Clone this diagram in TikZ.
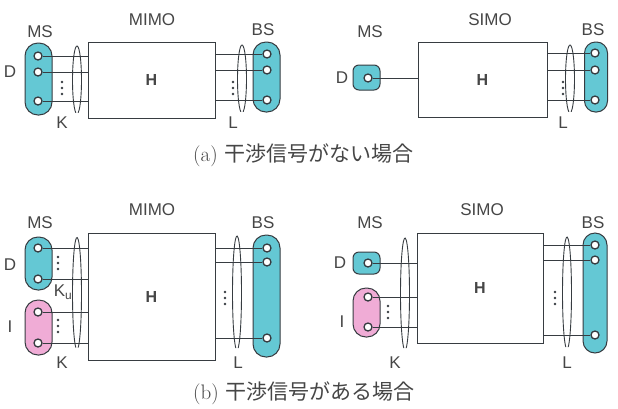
\documentclass[tikz,border=0pt]{standalone}
\usepackage{fontspec}
\setsansfont{Liberation Sans}
\newfontfamily\jpfont{Noto Sans CJK JP}
\usetikzlibrary{calc}
\definecolor{antcyan}{RGB}{100,200,212}
\definecolor{antpink}{RGB}{240,172,214}
\definecolor{edgegray}{RGB}{55,60,65}
\definecolor{labelgray}{RGB}{70,70,70}

\begin{document}
\begin{tikzpicture}[x=1pt, y=-1pt,
        grp/.style={draw=edgegray, line width=1pt, inner sep=0pt, rounded corners=13pt},
        ant/.style={circle, draw=edgegray, fill=white, line width=1.3pt, inner sep=0pt, minimum size=8pt},
        chan/.style={rectangle, draw=edgegray, line width=0.9pt, inner sep=0pt, font=\sffamily\bfseries\fontsize{16}{16}\selectfont, text=labelgray},
        lbl/.style={font=\sffamily\fontsize{17}{17}\selectfont, text=labelgray, inner sep=0pt},
        figcaption/.style={anchor=west, font=\fontsize{21}{21}\selectfont, text=labelgray, inner sep=0pt},
        wire/.style={draw=edgegray, line width=0.9pt},
        bundle/.style={draw=edgegray, line width=0.9pt}
    ]
        \path[fill=white, use as bounding box] (0,0) rectangle (618,408);

        % (a) MIMO
        \node[lbl] (mimoA) at (152,20) {MIMO};
        \node[lbl] (msA) at (40,32) {MS};
        \node[lbl] (bsA) at (263,30) {BS};
        \node[lbl] (dA) at (10,72) {D};
        \node[grp, fill=antcyan, minimum width=27pt, minimum height=72pt] (msgrpA) at (38.5,79) {};
        \node[grp, fill=antcyan, minimum width=27pt, minimum height=70pt] (bsgrpA) at (266.5,77) {};
        \node[chan, minimum width=127pt, minimum height=76pt] (HA) at (151.5,80) {H};
        \node[ant] (a1) at (38,56) {};
        \node[ant] (a2) at (38,72) {};
        \node[ant] (a3) at (38,101) {};
        \node[ant] (b1) at (267,54) {};
        \node[ant] (b2) at (267,70) {};
        \node[ant] (b3) at (267,100) {};
        \draw[wire] (a1) -- (a1 -| HA.west);
        \draw[wire] (a2) -- (a2 -| HA.west);
        \draw[wire] (a3) -- (a3 -| HA.west);
        \draw[wire] (b1) -- (b1 -| HA.east);
        \draw[wire] (b2) -- (b2 -| HA.east);
        \draw[wire] (b3) -- (b3 -| HA.east);
        \foreach \y in {82,88,94} \fill[edgegray] (62,\y) circle (1.3pt);
        \foreach \y in {82,88,94} \fill[edgegray] (233,\y) circle (1.3pt);
        \draw[bundle] ([shift={(105:4.5 and 34)}]77,80) arc[start angle=105, end angle=435, x radius=4.5, y radius=34];
        \draw[bundle] ([shift={(105:4.5 and 34)}]242,79) arc[start angle=105, end angle=435, x radius=4.5, y radius=34];
        \node[lbl] (kA) at (62,123) {K};
        \node[lbl] (lA) at (233,123) {L};

        % (a) SIMO
        \node[lbl] (simoB) at (490,20) {SIMO};
        \node[lbl] (msB) at (370,32) {MS};
        \node[lbl] (bsB) at (593,30) {BS};
        \node[lbl] (dB) at (342,78) {D};
        \node[grp, fill=antcyan, rounded corners=6pt, minimum width=27pt, minimum height=25pt] (msgrpB) at (366.5,77.5) {};
        \node[grp, fill=antcyan, rounded corners=11pt, minimum width=23pt, minimum height=70pt] (bsgrpB) at (596,77) {};
        \node[chan, minimum width=129pt, minimum height=75pt] (HB) at (482.5,79.5) {H};
        \node[ant] (c1) at (368,78) {};
        \node[ant] (e1) at (595,53) {};
        \node[ant] (e2) at (595,70) {};
        \node[ant] (e3) at (595,100) {};
        \draw[wire] (c1) -- (c1 -| HB.west);
        \draw[wire] (e1) -- (e1 -| HB.east);
        \draw[wire] (e2) -- (e2 -| HB.east);
        \draw[wire] (e3) -- (e3 -| HB.east);
        \foreach \y in {82,88,94} \fill[edgegray] (563,\y) circle (1.3pt);
        \draw[bundle] ([shift={(105:4.5 and 34)}]570,79) arc[start angle=105, end angle=435, x radius=4.5, y radius=34];
        \node[lbl] (lB) at (563,123) {L};

        \node[figcaption] (capA) at (193,155) {(a)\hspace{7pt}{\jpfont 干渉信号がない場合}};

        % (b) MIMO
        \node[lbl] (mimoC) at (152,210) {MIMO};
        \node[lbl] (msC) at (40,223) {MS};
        \node[lbl] (bsC) at (263,223) {BS};
        \node[lbl] (dC) at (10,265) {D};
        \node[lbl] (iC) at (10,327) {I};
        \node[grp, fill=antcyan, minimum width=27pt, minimum height=53pt] (dgrpC) at (38.5,263.5) {};
        \node[grp, fill=antpink, minimum width=27pt, minimum height=55pt] (igrpC) at (38.5,327.5) {};
        \node[grp, fill=antcyan, minimum width=27pt, minimum height=122pt] (bsgrpC) at (266.5,296) {};
        \node[chan, minimum width=127pt, minimum height=127pt] (HC) at (151.5,296.5) {H};
        \node[ant] (f1) at (38,248) {};
        \node[ant] (f2) at (38,279) {};
        \node[ant] (g1) at (38,312) {};
        \node[ant] (g2) at (38,343) {};
        \node[ant] (h1) at (267,248) {};
        \node[ant] (h2) at (267,262) {};
        \node[ant] (h3) at (267,338) {};
        \draw[wire] (f1) -- (f1 -| HC.west);
        \draw[wire] (f2) -- (f2 -| HC.west);
        \draw[wire] (g1) -- (g1 -| HC.west);
        \draw[wire] (g2) -- (g2 -| HC.west);
        \draw[wire] (h1) -- (h1 -| HC.east);
        \draw[wire] (h2) -- (h2 -| HC.east);
        \draw[wire] (h3) -- (h3 -| HC.east);
        \foreach \y in {257,263,269} \fill[edgegray] (58,\y) circle (1.3pt);
        \foreach \y in {320,326,332} \fill[edgegray] (58,\y) circle (1.3pt);
        \foreach \y in {292,298,304} \fill[edgegray] (225,\y) circle (1.3pt);
        \draw[bundle] ([shift={(105:4.5 and 56)}]77,293.5) arc[start angle=105, end angle=435, x radius=4.5, y radius=56];
        \draw[bundle] ([shift={(105:4.5 and 57)}]237,293) arc[start angle=105, end angle=435, x radius=4.5, y radius=57];
        \node[lbl] (kuC) at (63,292) {K\textsubscript{u}};
        \node[lbl] (kC) at (62,363) {K};
        \node[lbl] (lC) at (238,363) {L};

        % (b) SIMO
        \node[lbl] (simoD) at (482,210) {SIMO};
        \node[lbl] (msD) at (370,223) {MS};
        \node[lbl] (bsD) at (593,223) {BS};
        \node[lbl] (dD) at (340,263) {D};
        \node[lbl] (iD) at (342,322) {I};
        \node[grp, fill=antcyan, rounded corners=6pt, minimum width=27pt, minimum height=22pt] (dgrpD) at (366.5,263) {};
        \node[grp, fill=antpink, minimum width=27pt, minimum height=49pt] (igrpD) at (366.5,312.5) {};
        \node[grp, fill=antcyan, rounded corners=12pt, minimum width=24pt, minimum height=120pt] (bsgrpD) at (595,293) {};
        \node[chan, minimum width=126pt, minimum height=110pt] (HD) at (480,288) {H};
        \node[ant] (m1) at (368,263) {};
        \node[ant] (n1) at (368,297) {};
        \node[ant] (n2) at (368,327) {};
        \node[ant] (p1) at (595,245) {};
        \node[ant] (p2) at (595,260) {};
        \node[ant] (p3) at (595,335) {};
        \draw[wire] (m1) -- (m1 -| HD.west);
        \draw[wire] (n1) -- (n1 -| HD.west);
        \draw[wire] (n2) -- (n2 -| HD.west);
        \draw[wire] (p1) -- (p1 -| HD.east);
        \draw[wire] (p2) -- (p2 -| HD.east);
        \draw[wire] (p3) -- (p3 -| HD.east);
        \foreach \y in {306,312,318} \fill[edgegray] (388,\y) circle (1.3pt);
        \foreach \y in {292,298,304} \fill[edgegray] (555,\y) circle (1.3pt);
        \draw[bundle] ([shift={(105:4.5 and 56)}]405,294) arc[start angle=105, end angle=435, x radius=4.5, y radius=56];
        \draw[bundle] ([shift={(105:4.5 and 56)}]567,293) arc[start angle=105, end angle=435, x radius=4.5, y radius=56];
        \node[lbl] (kD) at (395,363) {K};
        \node[lbl] (lD) at (567,363) {L};

        \node[figcaption] (capB) at (193,393) {(b)\hspace{7pt}{\jpfont 干渉信号がある場合}};
    \end{tikzpicture}
\end{document}
